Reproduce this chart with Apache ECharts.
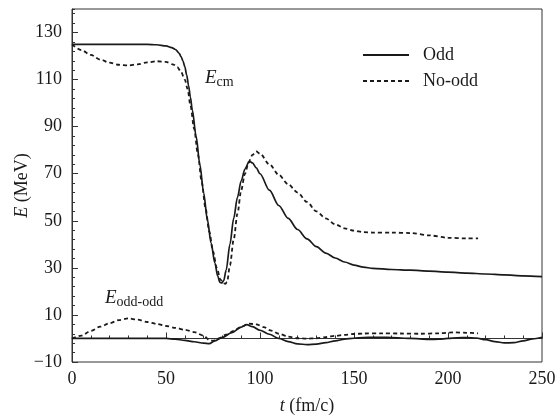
<!DOCTYPE html>
<html>
<head>
<meta charset="utf-8">
<script src="https://cdn.jsdelivr.net/npm/echarts@6/dist/echarts.min.js"></script>
<style>
html,body{margin:0;padding:0;background:#fff;}
#chart{width:559px;height:415px;}
</style>
</head>
<body>
<div id="chart"></div>
<script>
// E_cm, Odd
var oddCm = [[0,125],[10,125],[20,125],[30,125],[40,125],[45,124.8],[50,124.3],[53,123.6],[55,122.8],[57,121.2],[58,119.8],[59,118],[60,115.5],[61,112],[62,107.5],[63,102.5],[64,97],[66,86],[68,74],[70,62],[72,50.5],[74,40.5],[76,32],[77.5,26.5],[78.7,23.8],[79.7,23.6],[80.7,24.6],[82,29],[84,40],[86,51],[88,60],[90,67],[92,72],[94,74.8],[95,75],[96,74.6],[98,72.5],[100,70],[105,63],[110,56.5],[115,51],[120,46.3],[125,42.3],[130,39],[135,36.3],[140,34.2],[145,32.5],[150,31.2],[155,30.3],[160,29.8],[170,29.3],[180,29],[190,28.6],[200,28.2],[210,27.8],[220,27.4],[230,27],[240,26.6],[250,26.3]];
// E_cm, No-odd
var noOddCm = [[0,125],[5,122.5],[10,120.5],[15,118.5],[20,117.2],[25,116.3],[30,116],[35,116.5],[40,117.3],[45,117.8],[50,117.5],[54,116.4],[56,115.3],[58,113.3],[60,110],[61.5,106],[63,99],[65,89],[67,78],[69,66.5],[71,55.5],[73,45.5],[75,37],[77,30],[79,25],[80.5,23.5],[81.5,23.2],[82.5,24],[84,31],[86,42],[88,53],[90,63],[92,70],[94,75],[96,78],[98,79.5],[100,78.5],[105,74],[110,69.5],[115,65.5],[120,62],[125,58],[130,54],[135,51],[140,48.5],[145,46.8],[150,45.8],[155,45.2],[160,45],[170,45],[180,44.8],[190,43.8],[200,42.8],[210,42.5],[216,42.5]];
// E_odd-odd, Odd
var oddOO = [[0,0],[10,0],[20,0],[30,0],[40,0],[50,0],[55,-0.3],[60,-0.8],[65,-1.4],[70,-2],[73,-2.2],[76,-1],[80,0.5],[85,2.5],[90,4.8],[93,5.9],[96,5],[100,3.5],[105,1.8],[110,0],[115,-1.3],[120,-2.3],[125,-2.6],[130,-2.4],[135,-1.8],[140,-1],[145,-0.3],[150,0.1],[155,0.4],[160,0.5],[165,0.5],[170,0.4],[180,0],[190,-0.4],[195,-0.3],[200,0],[205,0.3],[210,0.4],[215,0.2],[220,-0.5],[225,-1.3],[230,-1.9],[235,-1.8],[240,-1],[245,-0.2],[250,0.5]];
// E_odd-odd, No-odd
var noOddOO = [[0,0],[5,1.2],[10,3.2],[15,5],[20,6.5],[25,7.8],[30,8.5],[35,8],[40,7],[45,6.2],[50,5.3],[55,4.5],[60,3.7],[65,2.7],[70,1.2],[73,-0.6],[75,-1],[78,0],[82,1.6],[86,3.2],[90,5],[94,6.3],[98,6],[102,4.8],[106,3.3],[110,2],[115,0.8],[120,0.1],[125,-0.1],[130,0.1],[135,0.6],[140,1.1],[145,1.5],[150,1.9],[155,2.1],[165,2.2],[175,2.1],[185,2],[195,2.2],[203,2.6],[210,2.4],[216,2.2]];

var font = 'Liberation Serif, serif';
var ink = '#1a1a1a';
var dash = [4, 3];

var chart = echarts.init(document.getElementById('chart'));

function line(name, data, dashed) {
  return {
    name: name,
    type: 'line',
    data: data,
    showSymbol: false,
    symbol: 'none',
    smooth: 0.3,
    smoothMonotone: 'x',
    lineStyle: {color: ink, width: dashed ? 1.8 : 1.7, type: dashed ? dash : 'solid'},
    itemStyle: {color: ink},
    animation: false
  };
}

chart.setOption({
  animation: false,
  grid: {left: 72, right: 17, top: 9, bottom: 53, show: true, borderColor: '#333', borderWidth: 1,
    containLabel: false, outerBoundsMode: 'none'},
  legend: {
    orient: 'vertical', left: 357, top: 41, itemWidth: 46, itemHeight: 10, itemGap: 8,
    itemStyle: {opacity: 0},
    textStyle: {fontFamily: font, fontSize: 18, color: ink, padding: [0, 0, 0, 9]},
    data: [{name: 'Odd'}, {name: 'No-odd'}]
  },
  xAxis: {
    type: 'value', min: 0, max: 250, interval: 50,
    name: '{i|t} (fm/c)', nameLocation: 'middle', nameGap: 35, nameMoveOverlap: false,
    nameTextStyle: {fontFamily: font, fontSize: 18, color: ink, rich: {i: {fontFamily: font, fontStyle: 'italic', fontSize: 18, color: ink}}},
    axisLine: {lineStyle: {color: '#333'}},
    axisTick: {inside: true, length: 6, lineStyle: {color: '#333'}},
    minorTick: {show: true, splitNumber: 5, length: 3, lineStyle: {color: '#333'}},
    splitLine: {show: false},
    axisLabel: {fontFamily: font, fontSize: 18, color: ink, margin: 8}
  },
  yAxis: [{
    type: 'value', min: -10, max: 140, interval: 20,
    name: '{i|E} (MeV)', nameLocation: 'middle', nameGap: 41, nameMoveOverlap: false,
    nameTextStyle: {fontFamily: font, fontSize: 18, color: ink, rich: {i: {fontFamily: font, fontStyle: 'italic', fontSize: 18, color: ink}}},
    axisLine: {show: true, lineStyle: {color: '#333'}},
    axisTick: {inside: true, length: 6, lineStyle: {color: '#333'}},
    splitLine: {show: false},
    axisLabel: {fontFamily: font, fontSize: 18, color: ink, margin: 10, showMaxLabel: false,
      formatter: function (v) { return v === 140 ? '' : (v < 0 ? '\u2212' + Math.abs(v) : String(v)); }}
  }, {
    type: 'value', min: -10, max: 140, interval: 4, position: 'left',
    axisLine: {show: false},
    axisTick: {inside: true, length: 3, lineStyle: {color: '#333'}},
    axisLabel: {show: false},
    splitLine: {show: false}
  }],
  graphic: [
    {type: 'text', left: 205, top: 68, style: {
      text: '{i|E}{s|cm}', rich: {
        i: {fontFamily: font, fontStyle: 'italic', fontSize: 19, fill: ink},
        s: {fontFamily: font, fontSize: 14, fill: ink, padding: [10, 0, 0, 0]}
      }}},
    {type: 'text', left: 105, top: 288, style: {
      text: '{i|E}{s|odd-odd}', rich: {
        i: {fontFamily: font, fontStyle: 'italic', fontSize: 19, fill: ink},
        s: {fontFamily: font, fontSize: 14, fill: ink, padding: [10, 0, 0, 0]}
      }}}
  ],
  series: [
    line('Odd', oddCm, false),
    line('No-odd', noOddCm, true),
    line('Odd', oddOO, false),
    line('No-odd', noOddOO, true)
  ]
});
</script>
</body>
</html>
